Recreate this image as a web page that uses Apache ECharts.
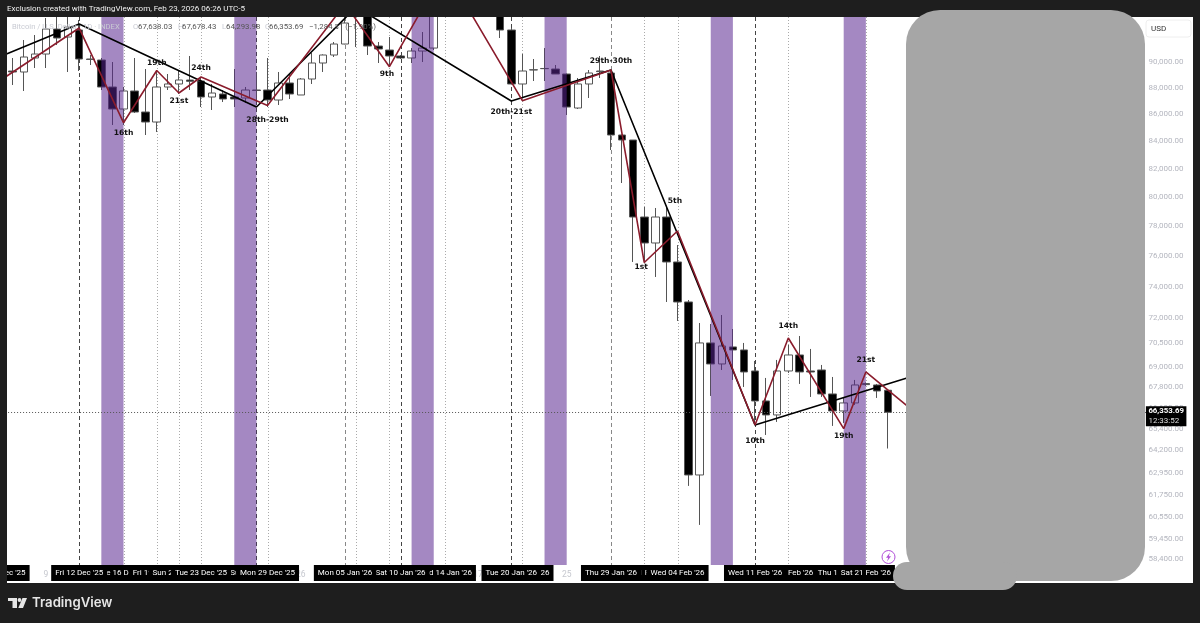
<!DOCTYPE html>
<html>
<head>
<meta charset="utf-8">
<title>Bitcoin / U.S. Dollar daily</title>
<style>html,body{margin:0;padding:0;background:#1e1e1e}#chart{width:1200px;height:623px}</style>
<script src="https://cdn.jsdelivr.net/npm/echarts@6/dist/echarts.min.js"></script>
</head>
<body>
<div id="chart"></div>
<script>
// Daily candles, first row is Sat 06 Dec '25
const opens = [89298,89221,90315,90628,92621,91979,92541,90235,90157,88063,86393,87758,86168,85422,88063,88295,88600,88524,87300,87530,87300,87225,87834,87834,87073,88371,87453,88678,89922,90550,91420,94000,94500,91260,90944,90472,90315,90865,91100,94000,96500,95300,95100,95400,93800,92541,88295,89376,89495,89453,89065,86468,88295,89298,89143,84460,84094,78644,76885,78644,75625,73038,62830,70480,69203,70235,70051,68782,67010,66200,68782,69746,68782,68842,67420,66430,66895,68030,67950,67638.03];
const closes = [89221,90392,90628,92621,91899,92782,90235,90200,88063,86393,87758,86168,85422,88063,88295,88601,88500,87300,87604,87149,87149,87834,87800,87073,88371,87530,88678,89922,90550,91420,93106,94800,91260,91024,90472,90315,90865,91100,94000,96500,95300,95100,95400,93800,92541,88295,89298,89400,89480,89065,86544,88295,89143,89250,84460,84094,78644,76885,78644,75625,73038,62830,70480,69203,70295,70051,68723,67010,66200,68782,69746,68723,68720,67420,66430,66895,67950,67970,67596,66353.69];
const lows = [88218,87758,89531,89531,91340,89221,89298,89766,87834,85200,85200,86093,84460,84680,87834,87530,87834,86544,86318,86920,86544,86845,87073,86544,86695,87149,87453,88295,89221,90392,91400,91180,90550,89922,89609,90235,89922,90000,90944,93800,94900,94400,94700,93700,91899,88256,87300,88524,88524,89065,85942,86393,87225,88755,83365,81005,75625,75560,74645,73037,71840,62235,60158,67303,68842,68246,67832,65626,65057,65798,68664,68010,67245,67245,65570,65740,66778,67900,67186,64293.98];
const highs = [90315,91740,92140,93512,94000,94000,93350,90550,90315,90000,88063,90315,89453,89376,89065,89376,90472,88833,88295,87834,89453,88063,89221,90315,89221,89065,88755,90706,90600,91580,94000,95500,95500,91580,91979,90550,91100,92380,94500,97200,97000,96000,95800,95600,94200,92700,90628,90235,91100,89766,89100,88755,89376,90472,89376,84500,84094,79332,79263,79263,76750,73165,71715,71650,72215,71340,70480,69383,68365,69444,70357,70908,70112,69143,68424,67186,68246,68100,68010,67678.43];

// Swing lines as bar number and price, bar 0 being Fri 05 Dec '25
const blackBars = [0,7,23,32,46,55,68,82];
const blackPrices = [90472,93027,86544,94413,86997,89376,65626,68424];
const redBars = [0,7,11,14,16,18,24,31,35,40,47,55,58,61,68,71,76,78,82];
const redPrices = [88640,92700,85370,89337,87604,88833,86657,94660,89632,97590,87020,89376,75590,77693,65626,70786,65415,68723,66573];

const noteTexts = ['16th','19th','21st','24th','28th-29th','9th','20th-21st','29th-30th','5th','1st','14th','10th','19th','21st'];
const noteBars = [11,14,16,18,24,35,46,55,61,58,71,68,76,78];
const notePrices = [84600,89922,86997,89531,85570,89065,86168,90079,79747,75290,71530,64719,65000,69444];

// Shaded date ranges, as first and last bar
const bandBars = [[9,11],[21,23],[37,39],[49,51],[64,66],[76,78]];

const darkDashBars = [7,23,36,46,68];
const greyDashBars = [31,55];
const dottedBars = [11,14,16,18,24,32,35,40,47,58,61,71,78];

// Date tags on the time scale, listed in paint order so later tags cover earlier ones
const tagBars = [0,11,7,14,16,23,18,24,40,36,31,47,46,58,55,61,71,68,76,78];
const dayTicks = {4:'9',27:'26',43:'17',51:'25'};

const priceTicks = [90000,88000,86000,84000,82000,80000,78000,76000,74000,72000,70500,69000,67800,66600,65400,64200,62950,61750,60550,59450,58400];
const lastClose = 66353.69;
const countdown = '12:33:52';

// Time scale categories, one per calendar day
const weekdays = ['Sun','Mon','Tue','Wed','Thu','Fri','Sat'];
const months = ['Jan','Feb','Mar','Apr','May','Jun','Jul','Aug','Sep','Oct','Nov','Dec'];
const categories = [];
for (let i = 0; i < 104; i++) {
  const d = new Date(Date.UTC(2025, 11, 5 + i));
  const dd = String(d.getUTCDate()).padStart(2, '0');
  categories.push(weekdays[d.getUTCDay()] + ' ' + dd + ' ' + months[d.getUTCMonth()] + " '" + String(d.getUTCFullYear()).slice(2));
}

const candles = [['-','-','-','-']].concat(opens.map((o, i) => [o, closes[i], lows[i], highs[i]]));

const SANS = 'Roboto, "Liberation Sans", sans-serif';
const PLOT_TOP = 17, PLOT_BOTTOM = 565;
const BAR_STEP = 11.08;
const noteNudge = {'9th': -2.5, '1st': -3, '5th': -2.5};

function plotBox(params) { return params.coordSys; }

const series = [
  {
    type: 'custom', name: 'date lines', z: 1, silent: true,
    data: darkDashBars.map(b => [b, 0]).concat(greyDashBars.map(b => [b, 1]), dottedBars.map(b => [b, 2])),
    renderItem(params, api) {
      const box = plotBox(params);
      const x = Math.round(api.coord([api.value(0), lastClose])[0]) + 0.5;
      const kind = api.value(1);
      const look = [
        {stroke: '#444', lineDash: [4, 3]},
        {stroke: '#888', lineDash: [4, 3]},
        {stroke: '#aaa', lineDash: [1, 2]}
      ][kind];
      return {type: 'line', shape: {x1: x, y1: box.y, x2: x, y2: box.y + box.height}, style: {lineWidth: 1, stroke: look.stroke, lineDash: look.lineDash}};
    }
  },
  {
    type: 'candlestick', name: 'BTCUSD', z: 2, barWidth: 8, silent: true, clip: true,
    data: candles,
    itemStyle: {color: '#ffffff', color0: '#000000', borderColor: '#555555', borderColor0: '#555555', borderWidth: 1}
  },
  {
    type: 'custom', name: 'bands', z: 3, silent: true,
    data: bandBars,
    renderItem(params, api) {
      const box = plotBox(params);
      const x1 = api.coord([api.value(0), lastClose])[0];
      const x2 = api.coord([api.value(1), lastClose])[0];
      return {type: 'rect', shape: {x: x1, y: box.y, width: x2 - x1, height: box.height}, style: {fill: 'rgba(87,35,142,0.54)'}};
    }
  },
  {
    type: 'custom', name: 'last price line', z: 4, silent: true,
    data: [[1, lastClose]],
    renderItem(params, api) {
      const box = plotBox(params);
      const y = Math.round(api.coord([1, api.value(1)])[1]) + 0.5;
      return {type: 'line', shape: {x1: box.x, y1: y, x2: box.x + box.width, y2: y}, style: {lineWidth: 1, stroke: '#555', lineDash: [1, 2]}};
    }
  },
  {
    type: 'line', name: 'black swings', z: 5, symbol: 'none', silent: true,
    data: blackBars.map((b, i) => [b, blackPrices[i]]),
    lineStyle: {color: '#000', width: 1.6}
  },
  {
    type: 'line', name: 'red swings', z: 6, symbol: 'none', silent: true,
    data: redBars.map((b, i) => [b, redPrices[i]]),
    lineStyle: {color: '#8a1c2c', width: 1.6}
  },
  {
    type: 'custom', name: 'notes', z: 7, silent: true,
    data: noteBars.map((b, i) => [b, notePrices[i], i]),
    renderItem(params, api) {
      const p = api.coord([api.value(0), api.value(1)]);
      const text = noteTexts[api.value(2)];
      return {type: 'text', x: p[0] + (noteNudge[text] || 0), y: p[1], style: {text, font: 'bold 7.6px "DejaVu Sans"', fill: '#111', align: 'center', verticalAlign: 'middle'}};
    }
  },
  {
    type: 'custom', name: 'date tags', z: 8, silent: true, clip: false,
    data: tagBars.map((b, i) => [b, lastClose, i]),
    renderItem(params, api) {
      const box = plotBox(params);
      const p = api.coord([api.value(0), lastClose]);
      return {type: 'text', x: p[0], y: box.y + box.height + 8, z2: api.value(2),
        style: {text: categories[api.value(0)], font: '8px ' + SANS, fill: '#fff', align: 'center', verticalAlign: 'middle', backgroundColor: '#000', padding: [4, 4]}};
    }
  },
  {
    type: 'custom', name: 'price tag', z: 8, silent: true, clip: false,
    data: [[1, lastClose]],
    renderItem(params, api) {
      const box = plotBox(params);
      const y = api.coord([1, api.value(1)])[1];
      const left = box.x + box.width - 2.5;
      return {type: 'group', children: [
        {type: 'rect', shape: {x: left, y: y - 6, width: 40.5, height: 20}, style: {fill: '#000'}},
        {type: 'text', x: left + 2.5, y: y - 1, style: {text: lastClose.toLocaleString('en-US', {minimumFractionDigits: 2}), font: 'bold 7.8px ' + SANS, fill: '#fff', verticalAlign: 'middle'}},
        {type: 'text', x: left + 2.5, y: y + 8.5, style: {text: countdown, font: '8px ' + SANS, fill: '#ddd', verticalAlign: 'middle'}}
      ]};
    }
  }
];

const legendLetters = [['O',133],['H',178],['L',222],['C',265]];
const legendValues = [['67,638.03',138],['67,678.43',182],['64,293.98',226],['66,353.69',269],['\u22121,284.31 (\u22121.90%)',309]];

const graphic = [
  {type: 'rect', z: -10, silent: true, shape: {x: 7, y: 17, width: 1186, height: 566}, style: {fill: '#ffffff'}},
  {type: 'rect', z: 70, silent: true, shape: {x: 0, y: 0, width: 7, height: 623}, style: {fill: '#1e1e1e'}},
  {type: 'rect', z: 70, silent: true, shape: {x: 0, y: 0, width: 1200, height: 17}, style: {fill: '#1e1e1e'}},
  {type: 'text', z: 91, silent: true, x: 7, y: 9, style: {text: 'Exclusion created with TradingView.com, Feb 23, 2026 06:26 UTC-5', font: '8px ' + SANS, fill: '#f2f2f2', verticalAlign: 'middle'}},
  {type: 'text', z: 40, silent: true, x: 12, y: 27, style: {text: 'Bitcoin / U.S. Dollar \u00b7 1D \u00b7 INDEX', font: '7.6px ' + SANS, fill: '#c9cbd3', verticalAlign: 'middle'}}
].concat(
  legendLetters.map(l => ({type: 'text', z: 40, silent: true, x: l[1], y: 27, style: {text: l[0], font: '7.6px ' + SANS, fill: '#c9cbd3', verticalAlign: 'middle'}})),
  legendValues.map(l => ({type: 'text', z: 40, silent: true, x: l[1], y: 27, style: {text: l[0], font: '7.8px ' + SANS, fill: '#555', verticalAlign: 'middle'}})),
  [
    {type: 'rect', z: 80, silent: true, shape: {x: 906, y: 10, width: 239, height: 571, r: 34}, style: {fill: '#a6a6a6'}},
    {type: 'rect', z: 80, silent: true, shape: {x: 893, y: 562, width: 124, height: 28, r: 14}, style: {fill: '#a6a6a6'}},
    {type: 'circle', z: 60, silent: true, shape: {cx: 888.5, cy: 557, r: 6.5}, style: {fill: '#fff', stroke: '#b14fd8', lineWidth: 1}},
    {type: 'polygon', z: 61, silent: true, shape: {points: [[890,552.5],[886,557.8],[888.2,557.8],[887,561.5],[891,556.2],[888.8,556.2]]}, style: {fill: '#b14fd8'}},
    {type: 'rect', z: 30, silent: true, shape: {x: 1146, y: 20, width: 45, height: 17, r: 3}, style: {fill: '#fff', stroke: '#eeeeee', lineWidth: 1}},
    {type: 'text', z: 31, silent: true, x: 1151, y: 29, style: {text: 'USD', font: '8px ' + SANS, fill: '#333', verticalAlign: 'middle'}},
    {type: 'polygon', z: 91, silent: true, shape: {points: [[8,598],[17,598],[17,608],[12.5,608],[12.5,601],[8,601]]}, style: {fill: '#e6e6e6'}},
    {type: 'circle', z: 91, silent: true, shape: {cx: 19.5, cy: 600, r: 1.9}, style: {fill: '#e6e6e6'}},
    {type: 'polygon', z: 91, silent: true, shape: {points: [[22.5,598],[27,598],[23,608],[18.3,608]]}, style: {fill: '#e6e6e6'}},
    {type: 'text', z: 91, silent: true, x: 32, y: 603, style: {text: 'TradingView', font: '600 13.2px Inter, Roboto, sans-serif', fill: '#e6e6e6', verticalAlign: 'middle'}}
  ]
);

const chart = echarts.init(document.getElementById('chart'), null, {renderer: 'canvas', width: 1200, height: 623});
chart.setOption({
  animation: false,
  backgroundColor: '#1e1e1e',
  grid: {left: 12.7 - 1.5 * BAR_STEP, top: PLOT_TOP, width: 104 * BAR_STEP, height: PLOT_BOTTOM - PLOT_TOP, show: false, outerBoundsMode: 'none'},
  xAxis: {
    type: 'category', data: categories, boundaryGap: true,
    axisLine: {show: false}, axisTick: {show: false}, splitLine: {show: false},
    axisLabel: {
      interval: i => dayTicks[i] !== undefined,
      formatter: (v, i) => dayTicks[i] || '',
      color: '#c6c8cf', fontFamily: 'Roboto', fontSize: 8.5, margin: 5
    }
  },
  yAxis: {
    type: 'log', logBase: Math.E, position: 'right', min: 58096, max: 93595,
    axisLine: {show: false}, axisTick: {show: false}, splitLine: {show: false},
    axisLabel: {
      customValues: priceTicks,
      formatter: v => Number(v).toLocaleString('en-US', {minimumFractionDigits: 2, maximumFractionDigits: 2}),
      color: '#b4b6bf', fontFamily: 'Roboto', fontSize: 8, margin: 0
    }
  },
  graphic,
  series
});
</script>
</body>
</html>
